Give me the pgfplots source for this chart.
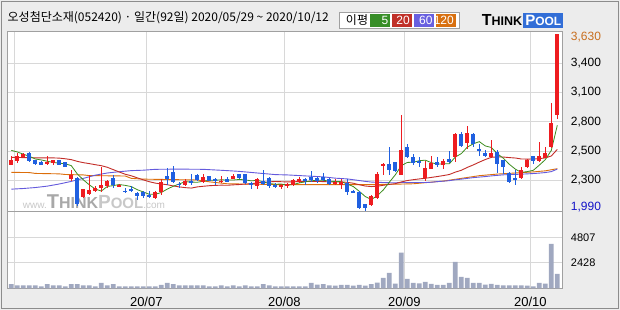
\documentclass[border=0pt]{standalone}
\usepackage{fontspec}
\setmainfont{Liberation Sans}
\newfontfamily\kr{Noto Sans CJK KR}
\usepackage{pgfplots}
\usepackage{pgfplotstable}
\pgfplotsset{compat=1.18}
\definecolor{bggray}{RGB}{236,236,236}
\definecolor{framegray}{RGB}{160,160,160}
\definecolor{outergray}{RGB}{140,140,140}
\definecolor{gridgray}{RGB}{216,216,216}
\definecolor{upred}{RGB}{238,28,32}
\definecolor{downblue}{RGB}{32,96,224}
\definecolor{volc}{RGB}{160,168,192}
\definecolor{maG}{RGB}{60,140,30}
\definecolor{maR}{RGB}{195,45,40}
\definecolor{maB}{RGB}{100,90,220}
\definecolor{maO}{RGB}{220,110,10}
\definecolor{lgG}{RGB}{56,142,40}
\definecolor{lgR}{RGB}{192,48,40}
\definecolor{lgB}{RGB}{104,96,224}
\definecolor{lgO}{RGB}{216,112,16}
\definecolor{hiC}{RGB}{200,110,30}
\definecolor{loC}{RGB}{20,20,200}
\definecolor{tpblue}{RGB}{50,110,215}
\definecolor{wmA}{RGB}{168,168,168}
\definecolor{wmB}{RGB}{200,200,200}

\pgfplotstableread{
i O H L C
0 2415 2495 2410 2460
1 2450 2530 2430 2500
2 2485 2530 2475 2515
6 2425 2500 2415 2440
7 2435 2465 2415 2460
10 2285 2370 2265 2325
12 2115 2195 2110 2190
13 2145 2325 2140 2180
14 2170 2215 2160 2205
15 2200 2395 2160 2230
16 2220 2275 2205 2270
18 2215 2240 2210 2230
24 2110 2170 2095 2165
25 2165 2280 2135 2260
29 2225 2285 2220 2265
32 2255 2330 2245 2305
35 2260 2310 2245 2270
37 2285 2330 2280 2310
41 2215 2290 2195 2285
45 2215 2240 2190 2230
46 2220 2245 2200 2235
47 2230 2285 2215 2275
48 2255 2300 2245 2285
54 2240 2280 2230 2260
55 2230 2280 2195 2260
60 2045 2140 2030 2125
61 2110 2345 2095 2335
62 2410 2435 2325 2425
65 2325 2875 2320 2550
69 2295 2455 2265 2385
70 2380 2495 2375 2435
72 2415 2470 2380 2450
74 2485 2710 2440 2700
76 2620 2775 2565 2715
80 2490 2645 2485 2525
85 2295 2395 2285 2370
86 2400 2470 2385 2465
88 2450 2630 2445 2500
89 2480 2585 2475 2530
90 2580 2990 2570 2800
91 2880 3630 2845 3630
}\upcandles

\pgfplotstableread{
i O H L C
3 2525 2535 2445 2450
4 2465 2465 2410 2425
5 2440 2450 2410 2415
8 2460 2465 2410 2415
9 2440 2440 2400 2400
11 2295 2300 2030 2055
17 2295 2325 2200 2230
19 2175 2205 2155 2165
20 2195 2215 2160 2175
21 2155 2160 2085 2125
22 2165 2175 2110 2125
23 2140 2175 2110 2120
26 2310 2385 2230 2285
27 2350 2405 2245 2255
28 2240 2255 2200 2230
30 2265 2330 2230 2245
31 2320 2335 2265 2275
33 2310 2310 2265 2270
34 2280 2295 2230 2265
36 2280 2300 2255 2260
38 2330 2335 2285 2295
39 2330 2335 2240 2245
40 2245 2260 2195 2225
42 2265 2365 2230 2240
43 2295 2300 2200 2215
44 2230 2245 2205 2215
49 2285 2295 2230 2265
50 2305 2355 2255 2275
51 2295 2305 2245 2265
52 2300 2340 2265 2275
53 2285 2290 2230 2235
56 2245 2280 2140 2160
57 2175 2180 2150 2155
58 2165 2170 2010 2015
59 2050 2055 1990 2015
63 2425 2580 2325 2370
64 2440 2440 2350 2360
66 2580 2605 2475 2485
67 2485 2515 2415 2435
68 2450 2485 2400 2440
71 2440 2490 2395 2415
73 2470 2540 2435 2440
75 2700 2725 2585 2595
77 2700 2710 2580 2605
78 2565 2610 2495 2540
79 2525 2555 2485 2500
81 2535 2555 2340 2425
82 2460 2465 2335 2395
83 2340 2345 2250 2260
84 2295 2365 2230 2275
87 2500 2500 2425 2455
}\downcandles

\pgfplotstableread{
i V
0 420
1 300
2 300
3 300
4 300
5 200
6 420
7 300
8 300
9 200
10 420
11 420
12 300
13 300
14 200
15 520
16 300
17 420
18 200
19 200
20 200
21 200
22 200
23 200
24 200
25 330
26 520
27 420
28 300
29 300
30 300
31 300
32 300
33 200
34 200
35 300
36 200
37 300
38 200
39 300
40 200
41 200
42 420
43 300
44 200
45 200
46 200
47 200
48 200
49 200
50 520
51 360
52 420
53 300
54 270
55 330
56 330
57 270
58 330
59 270
60 420
61 550
62 1000
63 1470
64 450
65 3360
66 900
67 530
68 470
69 620
70 440
71 330
72 330
73 530
74 2500
75 1100
76 1000
77 530
78 530
79 370
80 440
81 330
82 300
83 300
84 300
85 300
86 280
87 200
88 530
89 450
90 4180
91 1370
}\vol

\pgfplotsset{panel/.style={
  anchor=south west, width=555pt, scale only axis,
  xmin=-0.667, xmax=91.833,
  axis background/.style={fill=white},
  axis line style={draw=framegray, line width=1pt},
  tick style={draw=none},
  grid=major, major grid style={draw=gridgray, line width=0.8pt},
  xtick={0.5,22.5,45.5,65.5,86.5},
  yticklabel pos=right,
  yticklabel style={anchor=west, inner sep=0pt, xshift=8.4pt},
},
candle/.style={draw=none, mark=none, forget plot,
  error bars/.cd, y dir=both, y explicit, error mark=none,
  error bar style={draw=#1, line width=1pt}},
body/.style={draw=none, mark=none, forget plot,
  error bars/.cd, y dir=both, y explicit, error mark=none,
  error bar style={draw=#1, line width=4.3pt}},
}

\begin{document}
\begin{tikzpicture}
\path[use as bounding box] (0pt,0pt) rectangle (620pt,310pt);
\fill[bggray] (0pt,0pt) rectangle (620pt,310pt);
\draw[outergray, line width=1pt] (1.5pt,1.5pt) rectangle (618.5pt,308.5pt);

% title
\node[anchor=west, inner sep=0pt] at (7.5pt,292pt) {\kr\fontsize{12}{14}\selectfont 오성첨단소재(052420) · 일간(92일) 2020/05/29 \textasciitilde{} 2020/10/12};

% legend box
\draw[framegray, fill=white, line width=0.8pt] (339.3pt,282pt) rectangle (459.3pt,297.7pt);
\node[inner sep=0pt] at (357pt,290pt) {\kr\fontsize{12}{14}\selectfont 이평};
\fill[lgG] (370pt,283.3pt) rectangle (390pt,296.3pt);
\fill[lgR] (392pt,283.3pt) rectangle (411.7pt,296.3pt);
\fill[lgB] (413.7pt,283.3pt) rectangle (434.3pt,296.3pt);
\fill[lgO] (436.3pt,283.3pt) rectangle (455.7pt,296.3pt);
\node[anchor=east, inner sep=0pt, text=white] at (388.5pt,289.8pt) {\fontsize{12}{12}\selectfont 5};
\node[anchor=east, inner sep=0pt, text=white] at (410pt,289.8pt) {\fontsize{12}{12}\selectfont 20};
\node[anchor=east, inner sep=0pt, text=white] at (432.7pt,289.8pt) {\fontsize{12}{12}\selectfont 60};
\node[anchor=east, inner sep=0pt, text=white] at (454pt,289.8pt) {\fontsize{12}{12}\selectfont 120};

% logo
\node[anchor=west, inner sep=0pt] at (481.7pt,289.5pt) {\bfseries{\fontsize{16}{16}\selectfont T}{\fontsize{12.5}{12.5}\selectfont HINK}};
\fill[tpblue] (523.3pt,281.7pt) rectangle (563.3pt,296.7pt);
\node[inner sep=0pt, text=white] at (543.3pt,289.2pt) {\bfseries{\fontsize{15}{15}\selectfont P}{\fontsize{12}{12}\selectfont OOL}};

% price panel
\begin{axis}[panel, at={(7.3pt,98pt)}, height=180.7pt,
  ymin=1978, ymax=3655,
  xticklabels={},
  ytick={2272.5,2544.5,2816.5,3088.5,3360.5},
  yticklabels={{2,300},{2,500},{2,800},{3,100},{3,400}},
  extra y ticks={2022,3599},
  extra y tick labels={{\textcolor{loC}{1,990}},{\textcolor{hiC}{3,630}}},
  extra y tick style={grid=none},
  yticklabel style={font=\fontsize{12}{12}\selectfont},
]
\node[anchor=base west, inner sep=0pt] at (axis cs:1.9,2008) {{\color{wmB}\fontsize{10}{10}\selectfont www.}{\color{wmA}\bfseries{\fontsize{20}{20}\selectfont T}{\fontsize{16}{16}\selectfont HINK}}{\color{wmB}\bfseries{\fontsize{19}{19}\selectfont P}{\fontsize{15}{15}\selectfont OOL}}{\color{wmB}\fontsize{10}{10}\selectfont .com}};

\addplot[maO, line width=0.9pt] coordinates {(0,2346) (3,2344) (4,2336) (8,2332) (9,2326) (12,2322) (13,2316) (19,2312) (20,2290) (22,2283) (31,2275) (33,2258) (36,2240) (45,2232) (60,2232) (64,2236) (67,2240) (69,2250) (72,2265) (75,2290) (78,2315) (81,2330) (84,2340) (87,2350) (89,2360) (91,2380)};
\addplot[maB, line width=0.9pt] coordinates {(0,2190) (2,2196) (4,2205) (6,2218) (8,2238) (10,2262) (12,2290) (14,2320) (16,2340) (18,2352) (20,2362) (22,2366) (24,2374) (28,2376) (32,2374) (34,2368) (36,2362) (38,2355) (40,2345) (42,2335) (44,2325) (46,2322) (48,2316) (50,2310) (52,2304) (54,2292) (56,2285) (58,2270) (59,2262) (60,2256) (61,2253) (62,2252) (63,2250) (64,2249) (65,2252) (66,2252) (67,2252) (68,2252) (69,2252) (70,2254) (71,2260) (72,2264) (73,2269) (74,2277) (75,2283) (76,2290) (77,2297) (78,2302) (79,2307) (80,2313) (81,2318) (82,2323) (83,2325) (84,2327) (85,2329) (86,2332) (87,2335) (88,2339) (89,2344) (90,2353) (91,2376)};
\addplot[maR, line width=0.9pt] coordinates {(0,2485) (1,2484) (2,2483) (3,2482) (4,2481) (5,2480) (6,2480) (7,2480) (8,2478) (9,2472) (10,2464) (11,2448) (12,2436) (13,2427) (14,2417) (15,2408) (16,2393) (17,2371) (18,2349) (19,2328) (20,2314) (21,2295) (22,2276) (23,2259) (24,2246) (25,2238) (26,2231) (27,2220) (28,2211) (29,2204) (30,2200) (31,2211) (32,2217) (33,2222) (34,2225) (35,2227) (36,2226) (37,2230) (38,2233) (39,2237) (40,2240) (41,2248) (42,2254) (43,2258) (44,2261) (45,2259) (46,2257) (47,2258) (48,2261) (49,2261) (50,2262) (51,2262) (52,2260) (53,2258) (54,2258) (55,2258) (56,2253) (57,2245) (58,2231) (59,2219) (60,2214) (61,2217) (62,2226) (63,2234) (64,2241) (65,2257) (66,2270) (67,2278) (68,2285) (69,2291) (70,2299) (71,2307) (72,2316) (73,2326) (74,2348) (75,2365) (76,2392) (77,2415) (78,2441) (79,2465) (80,2485) (81,2490) (82,2488) (83,2483) (84,2479) (85,2470) (86,2469) (87,2470) (88,2473) (89,2480) (90,2498) (91,2559)};
\addplot[maG, line width=0.8pt] coordinates {(0,2550) (1,2535) (2,2515) (3,2495) (4,2470) (5,2461) (6,2449) (7,2438) (8,2431) (9,2426) (10,2408) (11,2331) (12,2277) (13,2230) (14,2191) (15,2172) (16,2215) (17,2223) (18,2233) (19,2225) (20,2214) (21,2185) (22,2164) (23,2142) (24,2142) (25,2159) (26,2191) (27,2217) (28,2239) (29,2259) (30,2256) (31,2254) (32,2264) (33,2272) (34,2272) (35,2277) (36,2274) (37,2275) (38,2280) (39,2276) (40,2267) (41,2272) (42,2258) (43,2242) (44,2236) (45,2237) (46,2227) (47,2234) (48,2248) (49,2258) (50,2267) (51,2273) (52,2273) (53,2263) (54,2262) (55,2259) (56,2238) (57,2214) (58,2170) (59,2121) (60,2094) (61,2129) (62,2183) (63,2254) (64,2323) (65,2408) (66,2438) (67,2440) (68,2454) (69,2459) (70,2436) (71,2422) (72,2425) (73,2425) (74,2488) (75,2520) (76,2580) (77,2611) (78,2631) (79,2591) (80,2577) (81,2519) (82,2477) (83,2421) (84,2376) (85,2345) (86,2353) (87,2365) (88,2413) (89,2464) (90,2550) (91,2783)};

% wicks
\addplot[candle=upred]
  table[x=i, y expr={(\thisrow{H}+\thisrow{L})/2}, y error expr={(\thisrow{H}-\thisrow{L})/2}] {\upcandles};
\addplot[candle=downblue]
  table[x=i, y expr={(\thisrow{H}+\thisrow{L})/2}, y error expr={(\thisrow{H}-\thisrow{L})/2}] {\downcandles};
% bodies
\addplot[body=upred]
  table[x=i, y expr={(\thisrow{O}+\thisrow{C})/2}, y error expr={max(abs(\thisrow{C}-\thisrow{O})/2,5)}] {\upcandles};
\addplot[body=downblue]
  table[x=i, y expr={(\thisrow{O}+\thisrow{C})/2}, y error expr={max(abs(\thisrow{C}-\thisrow{O})/2,5)}] {\downcandles};
\end{axis}

% volume panel
\begin{axis}[panel, at={(7.3pt,21.5pt)}, height=76.5pt,
  ymin=0, ymax=7183,
  xticklabels={,20/07,20/08,20/09,20/10},
  xticklabel style={font=\fontsize{13}{13}\selectfont, anchor=north, inner sep=0pt, yshift=-8pt},
  ytick={2428,4807},
  yticklabels={2428,4807},
  yticklabel style={font=\fontsize{11}{11}\selectfont},
]
\addplot[ybar, bar width=4.8pt, bar shift=0pt, fill=volc, draw=none] table[x=i, y=V] {\vol};
\node[anchor=west, inner sep=0pt, xshift=13.4pt, yshift=2.8pt] at (rel axis cs:1,0) {\fontsize{11}{11}\selectfont x10000};
\end{axis}
\end{tikzpicture}
\end{document}
